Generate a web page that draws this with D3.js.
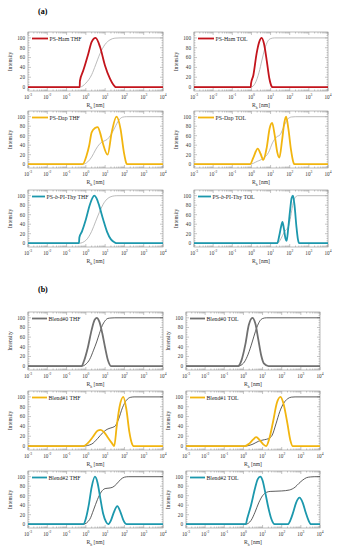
<!DOCTYPE html>
<html>
<head>
<meta charset="utf-8">
<script src="https://cdn.jsdelivr.net/npm/d3@7"></script>
<style>
  body { margin: 0; background: #fff; }
  svg { display: block; font-family: "Liberation Serif", "DejaVu Serif", serif; }
</style>
</head>
<body>
<svg id="chart" width="337" height="550"></svg>
<script>
// ---- data: [R_h in nm, intensity %] ----
const hamThf = [[0.001,0],[0.48,0],[0.49,12],[0.74,34],[1.34,68],[2.0,92],[3.2,100],[5.4,82],[9.8,44],[17.8,17],[32,1],[35,0],[10000,0]];
const hamThfCum = [[0.001,0],[0.49,0],[1.0,8],[2.0,25],[3.2,45],[5.4,68],[10,87],[17.8,96],[32,99.5],[59,100],[10000,100]];
const hamTol = [[0.001,0],[0.93,0],[0.95,7],[1.26,24],[1.86,68],[2.57,92],[3.43,100],[4.54,88],[6.3,54],[8.7,17],[11.5,1],[12,0],[10000,0]];
const hamTolCum = [[0.001,0],[0.95,0],[1.58,8],[2.5,30],[3.55,55],[5.0,78],[7.1,93],[10,98.5],[16,100],[10000,100]];

const dapThf = [[0.001,0],[0.68,0],[1.1,19],[1.5,40],[2.0,67],[3.0,76],[4.1,78],[5.5,66],[7.4,46],[13.5,20],[21.9,67],[38.9,100],[63,74],[93,26],[129,1],[135,0],[10000,0]];
const dapThfCum = [[0.001,0],[0.68,0],[1.26,5],[2.0,15],[3.16,30],[5.0,42],[7.9,48],[12.6,52],[20,62],[31.6,77],[50,92],[79,99],[126,100],[10000,100]];
const dapTol = [[0.001,0],[0.85,0],[1.26,14],[2.14,33],[3.0,22],[4.17,9],[6.3,35],[8.9,75],[12,87],[16.6,60],[22.4,25],[28.8,14],[39.8,50],[52.5,88],[64.6,100],[85,75],[117,30],[158,3],[174,0],[10000,0]];
const dapTolCum = [[0.001,0],[0.85,0],[2,6],[4,12],[7.9,25],[12.6,45],[20,57],[31.6,62],[50,80],[79,95],[126,99.5],[200,100],[10000,100]];

const thyThf = [[0.001,0],[0.44,0],[0.46,12],[0.63,25],[1,50],[1.58,80],[2.24,96],[2.75,100],[3.55,95],[5,78],[7.9,50],[12.6,24],[20,8],[31.6,1.5],[40,0],[10000,0]];
const thyThfCum = [[0.001,0],[0.46,0],[1,6],[2,25],[3.16,45],[5,65],[7.9,82],[12.6,93],[20,98],[31.6,99.7],[40,100],[10000,100]];
const thyTol = [[0.001,0],[22.4,0],[28.2,15],[35.5,35],[41.7,45],[50,30],[60,10],[69,5],[83,30],[105,70],[126,95],[148,100],[178,80],[224,35],[269,8],[309,0],[10000,0]];
const thyTolCum = [[0.001,0],[23.4,0],[35.5,10],[50,22],[63,28],[79,32],[100,45],[126,68],[158,88],[200,97],[251,100],[10000,100]];

const b0Thf = [[0.001,0],[0.6,0],[0.79,10],[1.26,38],[2,75],[2.8,95],[3.63,100],[5,92],[7.1,68],[10,38],[14,12],[20,0],[10000,0]];
const b0ThfCum = [[0.001,0],[0.6,0],[1,4],[1.58,14],[2.5,33],[3.63,50],[5,67],[7.1,84],[10,94],[14,98.8],[20,99.6],[31.6,100],[10000,100]];
const b0Tol = [[0.001,0],[0.52,0],[0.79,12],[1.26,45],[1.9,85],[2.95,100],[4.2,88],[6,55],[8.5,22],[12,5],[20.4,0],[10000,0]];
const b0TolCum = [[0.001,0],[0.52,0],[1,6],[1.58,20],[2.5,42],[3.55,62],[5,80],[7.1,93],[10,98.5],[15.8,100],[10000,100]];

const b1Thf = [[0.001,0],[0.74,0],[1.26,6],[2.24,18],[4,31],[5.9,33],[8.9,28],[14.1,17],[22.4,6],[29.5,0],[39.8,40],[56,80],[87,100],[126,75],[178,30],[251,4],[288,0],[10000,0]];
const b1ThfCum = [[0.001,0],[0.74,0],[2,4],[4,15],[7.9,28],[12.6,34],[20,37],[31.6,40],[50,55],[79,78],[126,93],[200,99],[316,100],[10000,100]];
const b1Tol = [[0.001,0],[1.17,0],[2,5],[3.16,13],[4.7,18],[7.1,12],[11.2,3],[15.5,0],[22.4,15],[35.5,50],[56,88],[87,100],[126,85],[200,45],[282,12],[380,0],[10000,0]];
const b1TolCum = [[0.001,0],[1.17,0],[3.16,4],[6.3,10],[12.6,13],[20,15],[31.6,22],[50,45],[79,70],[126,87],[200,96],[316,99.5],[500,100],[10000,100]];

const b2Thf = [[0.001,0],[0.74,0],[1,12],[1.41,40],[2,78],[2.95,100],[4,88],[5.6,55],[7.9,22],[11.2,5],[14.5,0],[20,8],[28.2,25],[42.7,38],[63,25],[89,8],[129,0],[10000,0]];
const b2ThfCum = [[0.001,0],[0.74,0],[1.58,10],[2.5,30],[4,52],[6.3,68],[10,75],[15.8,76],[25,78],[40,85],[63,94],[100,99],[158,100],[10000,100]];
const b2Tol = [[0.001,0],[1.32,0],[1.58,12],[2.5,40],[4,75],[5.6,95],[7.6,100],[10,92],[14.1,65],[20,35],[28.2,12],[42.7,0],[209,0],[282,8],[398,25],[562,45],[851,56],[1259,45],[1778,25],[2512,8],[3388,0],[10000,0]];
const b2TolCum = [[0.001,0],[1.32,0],[2.5,8],[4,25],[6.3,45],[10,60],[15.8,67],[25,69],[100,70],[251,72],[501,78],[794,86],[1259,93],[1995,98],[3162,99.5],[5012,100],[10000,100]];

const xTicks = [1e-3, 1e-2, 1e-1, 1e0, 1e1, 1e2, 1e3, 1e4];
const yTicks = [0, 20, 40, 60, 80, 100];

// ---- layout ----
const RED = '#c3141c', YEL = '#f2b50f', TEAL = '#1c98ad', GREY = '#707070';
const panels = [
  { name: 'PS-Ham THF', dist: hamThf, cum: hamThfCum, color: RED, cumColor: '#aaaaaa', x0: 28, x1: 163, y0: 32, y1: 91, leg: 16 },
  { name: 'PS-Ham TOL', dist: hamTol, cum: hamTolCum, color: RED, cumColor: '#aaaaaa', x0: 194, x1: 328, y0: 32, y1: 91, leg: 16 },
  { name: 'PS-Dap THF', dist: dapThf, cum: dapThfCum, color: YEL, cumColor: '#aaaaaa', x0: 28, x1: 163, y0: 111, y1: 168, leg: 16 },
  { name: 'PS-Dap TOL', dist: dapTol, cum: dapTolCum, color: YEL, cumColor: '#aaaaaa', x0: 194, x1: 328, y0: 111, y1: 168, leg: 16 },
  { name: ['PS-', 'b', '-PI-Thy THF'], dist: thyThf, cum: thyThfCum, color: TEAL, cumColor: '#aaaaaa', x0: 28, x1: 163, y0: 190, y1: 247, leg: 13 },
  { name: ['PS-', 'b', '-PI-Thy TOL'], dist: thyTol, cum: thyTolCum, color: TEAL, cumColor: '#aaaaaa', x0: 194, x1: 328, y0: 190, y1: 247, leg: 13 },
  { name: 'Blend#0 THF', dist: b0Thf, cum: b0ThfCum, color: GREY, cumColor: '#333333', x0: 28, x1: 163, y0: 312, y1: 370, leg: 15 },
  { name: 'Blend#0 TOL', dist: b0Tol, cum: b0TolCum, color: GREY, cumColor: '#333333', x0: 186, x1: 320, y0: 312, y1: 370, leg: 15 },
  { name: 'Blend#1 THF', dist: b1Thf, cum: b1ThfCum, color: YEL, cumColor: '#333333', x0: 28, x1: 163, y0: 391, y1: 450, leg: 15 },
  { name: 'Blend#1 TOL', dist: b1Tol, cum: b1TolCum, color: YEL, cumColor: '#333333', x0: 186, x1: 320, y0: 391, y1: 450, leg: 15 },
  { name: 'Blend#2 THF', dist: b2Thf, cum: b2ThfCum, color: TEAL, cumColor: '#333333', x0: 28, x1: 163, y0: 471, y1: 528, leg: 15 },
  { name: 'Blend#2 TOL', dist: b2Tol, cum: b2TolCum, color: TEAL, cumColor: '#333333', x0: 186, x1: 320, y0: 471, y1: 528, leg: 15 }
];

const svg = d3.select('#chart');

// minor log ticks between decades
const minorX = [];
for (let e = -3; e < 4; e++) {
  for (let k = 2; k < 10; k++) minorX.push(k * Math.pow(10, e));
}
const minorY = d3.range(-5, 111, 5).filter(v => v % 20 !== 0);

function drawPanel(p) {
  const x = d3.scaleLog().domain([1e-3, 1e4]).range([p.x0, p.x1]);
  const y = d3.scaleLinear().domain([-8, 112]).range([p.y1, p.y0]);
  const g = svg.append('g');
  const frame = '#8c8c8c';

  g.append('rect')
    .attr('x', p.x0).attr('y', p.y0)
    .attr('width', p.x1 - p.x0).attr('height', p.y1 - p.y0)
    .attr('fill', 'none').attr('stroke', frame).attr('stroke-width', 0.6);

  // x ticks, bottom and top
  const tx = (vals, len) => {
    g.selectAll(null).data(vals).enter().append('line')
      .attr('x1', d => x(d)).attr('x2', d => x(d))
      .attr('y1', p.y1).attr('y2', p.y1 - len)
      .attr('stroke', frame).attr('stroke-width', 0.5);
    g.selectAll(null).data(vals).enter().append('line')
      .attr('x1', d => x(d)).attr('x2', d => x(d))
      .attr('y1', p.y0).attr('y2', p.y0 + len)
      .attr('stroke', frame).attr('stroke-width', 0.5);
  };
  tx(xTicks, 3);
  tx(minorX, 1.5);

  const ty = (vals, len) => {
    g.selectAll(null).data(vals).enter().append('line')
      .attr('x1', p.x0).attr('x2', p.x0 + len)
      .attr('y1', d => y(d)).attr('y2', d => y(d))
      .attr('stroke', frame).attr('stroke-width', 0.5);
    g.selectAll(null).data(vals).enter().append('line')
      .attr('x1', p.x1).attr('x2', p.x1 - len)
      .attr('y1', d => y(d)).attr('y2', d => y(d))
      .attr('stroke', frame).attr('stroke-width', 0.5);
  };
  ty(yTicks, 3);
  ty(minorY, 1.5);

  // tick labels
  const xl = g.selectAll(null).data(xTicks).enter().append('text')
    .attr('x', d => x(d)).attr('y', p.y1 + 7.5)
    .attr('text-anchor', 'middle')
    .attr('font-size', 5.2).attr('fill', '#333');
  xl.append('tspan').text('10');
  xl.append('tspan').attr('dy', -2.3).attr('font-size', 3.6)
    .text(d => String(Math.round(Math.log10(d))));

  g.selectAll(null).data(yTicks).enter().append('text')
    .attr('x', p.x0 - 3).attr('y', d => y(d) + 1.8)
    .attr('text-anchor', 'end')
    .attr('font-size', 5.2).attr('fill', '#333')
    .text(d => d);

  // axis titles
  const xt = g.append('text')
    .attr('x', (p.x0 + p.x1) / 2).attr('y', p.y1 + 16)
    .attr('text-anchor', 'middle')
    .attr('font-size', 5.6).attr('fill', '#333');
  xt.append('tspan').text('R');
  xt.append('tspan').attr('dy', 1.5).attr('font-size', 3.8).text('h');
  xt.append('tspan').attr('dy', -1.5).text(' [nm]');

  g.append('text')
    .attr('transform', `translate(${p.x0 - 16},${(p.y0 + p.y1) / 2}) rotate(-90)`)
    .attr('text-anchor', 'middle')
    .attr('font-size', 5.6).attr('fill', '#333')
    .text('Intensity');

  // curves
  const line = d3.line()
    .x(d => x(d[0]))
    .y(d => y(d[1]))
    .curve(d3.curveMonotoneX);

  g.append('path').datum(p.cum)
    .attr('fill', 'none').attr('stroke', p.cumColor)
    .attr('stroke-width', 0.8).attr('d', line);

  g.append('path').datum(p.dist)
    .attr('fill', 'none').attr('stroke', p.color)
    .attr('stroke-width', 1.8).attr('stroke-linejoin', 'round')
    .attr('d', line);

  // legend
  const ly = p.y0 + 6.5;
  g.append('line')
    .attr('x1', p.x0 + 4).attr('x2', p.x0 + 4 + p.leg)
    .attr('y1', ly).attr('y2', ly)
    .attr('stroke', p.color).attr('stroke-width', 1.8);
  const lt = g.append('text')
    .attr('x', p.x0 + 5.5 + p.leg).attr('y', ly + 2)
    .attr('font-size', 5.8).attr('fill', '#222');
  if (Array.isArray(p.name)) {
    lt.append('tspan').text(p.name[0]);
    lt.append('tspan').attr('font-style', 'italic').text(p.name[1]);
    lt.append('tspan').text(p.name[2]);
  } else {
    lt.text(p.name);
  }
}

panels.forEach(drawPanel);

svg.append('text').attr('x', 38).attr('y', 14)
  .attr('font-size', 8).attr('font-weight', 'bold').text('(a)');
svg.append('text').attr('x', 38).attr('y', 292)
  .attr('font-size', 8).attr('font-weight', 'bold').text('(b)');
</script>
</body>
</html>
